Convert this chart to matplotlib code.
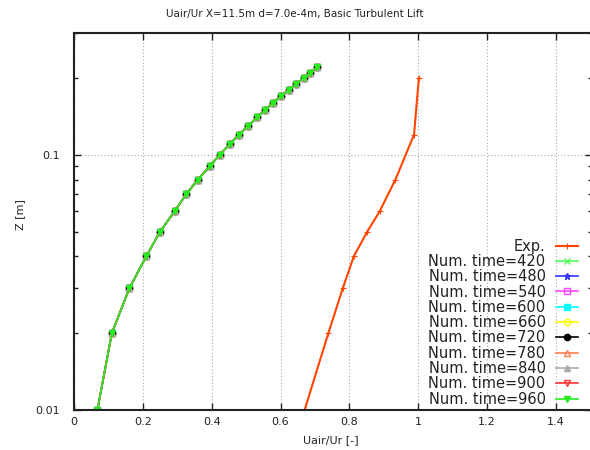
import numpy as np
import matplotlib.pyplot as plt

# experimental profile
exp_u = [0.670, 0.739, 0.781, 0.813, 0.852, 0.888, 0.934, 0.988, 1.002]
exp_z = [0.01, 0.02, 0.03, 0.04, 0.05, 0.06, 0.08, 0.12, 0.20]

# numerical profile (all output times sit on top of each other)
num_z = [0.01, 0.02, 0.03, 0.04, 0.05, 0.06, 0.07, 0.08, 0.09, 0.10,
         0.11, 0.12, 0.13, 0.14, 0.15, 0.16, 0.17, 0.18, 0.19, 0.20, 0.21, 0.22]
num_u = [0.068, 0.110, 0.161, 0.210, 0.250, 0.292, 0.326, 0.360, 0.394, 0.423,
         0.452, 0.480, 0.506, 0.532, 0.555, 0.578, 0.602, 0.624, 0.646, 0.668, 0.687, 0.707]
times = [420, 480, 540, 600, 660, 720, 780, 840, 900, 960]

# gnuplot-ish styles for each time
colors = ["#55ff55", "#3333ff", "#ff44ff", "#00ffff", "#ffff00",
          "#000000", "#ff7f50", "#aaaaaa", "#ff3333", "#22ee22"]
markers = ["x", "*", "s", "s", "o", "o", "^", "^", "v", "v"]
filled = [True, True, False, True, False, True, False, True, False, True]

fig = plt.figure(figsize=(5.9, 4.5), dpi=100)
ax = fig.add_axes([74/590, 40/450, 518/590, 377/450])

ax.plot(exp_u, exp_z, color="#ff4500", lw=1.5, marker="+", ms=5, mew=0.8, label="Exp.")
for t, c, m, f in zip(times, colors, markers, filled):
    ax.plot(num_u, num_z, color=c, lw=1.2, marker=m, ms=4.5,
            mfc=c if f else "none", mec=c, mew=1.0, label="Num. time=%d" % t)

ax.set_yscale("log")
ax.set_xlim(0, 1.505)
ax.set_ylim(0.01, 0.3)
ax.set_xticks(np.arange(0, 1.41, 0.2))
ax.set_xticklabels(["0", "0.2", "0.4", "0.6", "0.8", "1", "1.2", "1.4"])
ax.set_yticks([0.01, 0.1])
ax.set_yticklabels(["0.01", "0.1"])
ax.tick_params(which="both", direction="in", top=True, right=True, labelsize=8, colors="#222222")
ax.tick_params(axis="x", pad=5)
ax.tick_params(axis="y", pad=10)
ax.tick_params(which="major", length=5, width=1)
ax.tick_params(which="minor", length=3, width=1)
ax.grid(True, which="major", ls=(0, (1, 2)), color="#aaaaaa", lw=0.8)
for s in ax.spines.values():
    s.set_linewidth(1.5)
    s.set_color("#222222")
ax.spines["right"].set_visible(False)

fig.text(0.5, 0.968, "Uair/Ur X=11.5m d=7.0e-4m, Basic Turbulent Lift", ha="center", va="center", fontsize=7.5, color="#222222")
fig.text(331/590, 1 - 440/450, "Uair/Ur [-]", ha="center", va="center", fontsize=8, color="#222222")
fig.text(20/590, 1 - 215/450, "Z [m]", ha="center", va="center", rotation=90, fontsize=8, color="#222222")

ax.legend(loc="lower right", bbox_to_anchor=(582/590, 39/450), bbox_transform=fig.transFigure,
          frameon=False, markerfirst=False,
          fontsize=10.5, labelspacing=0.02, handlelength=1.5, handletextpad=0.7,
          borderaxespad=0.0, borderpad=0.3, labelcolor="#222222")

fig.savefig("out.png", dpi=100)
